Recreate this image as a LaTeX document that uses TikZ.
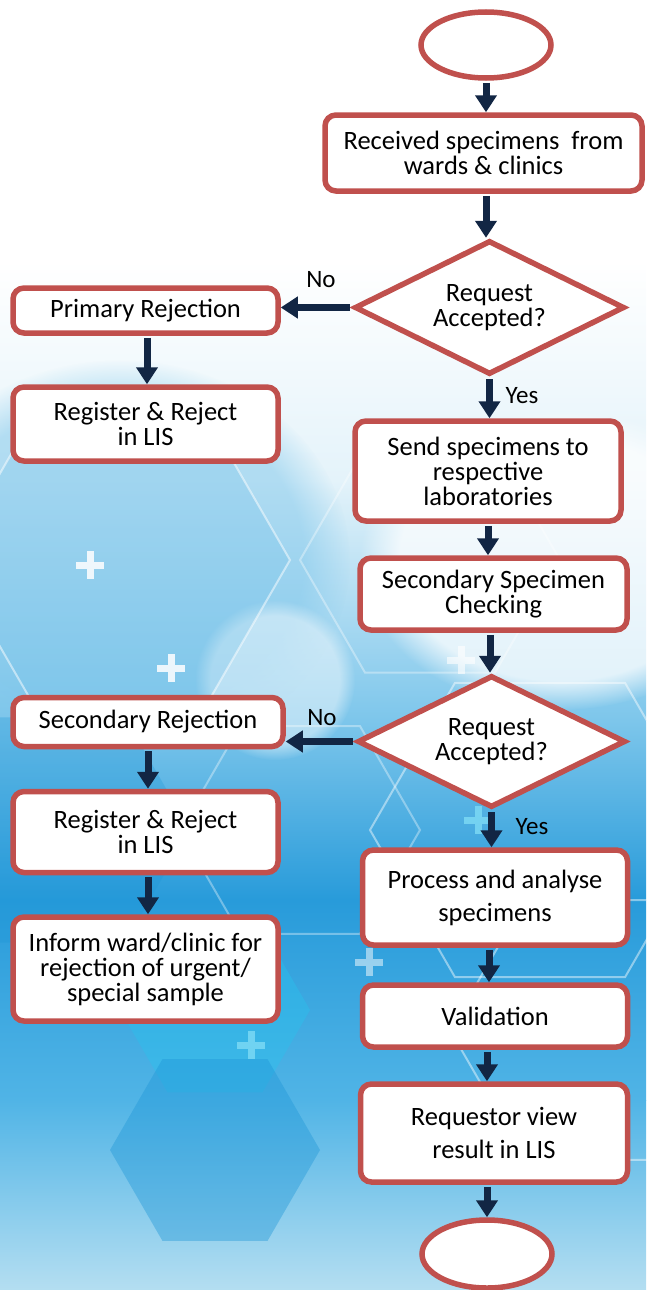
\documentclass[tikz,border=0pt]{standalone}
\usepackage{fontspec}
\setmainfont{Carlito}
\usetikzlibrary{shapes.geometric,arrows.meta,fadings}
\definecolor{bred}{RGB}{192,80,77}
\definecolor{navy}{RGB}{18,38,68}
\definecolor{bgA}{RGB}{228,243,250}
\definecolor{bgB}{RGB}{125,198,235}
\definecolor{bgC}{RGB}{40,155,218}
\definecolor{bgD}{RGB}{80,180,230}
\definecolor{bgE}{RGB}{180,222,241}
\definecolor{hexA}{RGB}{30,150,215}
\definecolor{hexB}{RGB}{40,195,238}
\newcommand{\hexa}[4]{\path[#4] (#1,#2) ++(0:#3) -- ++(120:#3) -- ++(180:#3) -- ++(240:#3) -- ++(300:#3) -- ++(0:#3) -- cycle;}
\newcommand{\plussign}[3]{\draw[#3,line width=7pt] (#1-14,#2) -- (#1+14,#2) (#1,#2-14) -- (#1,#2+14);}
\begin{document}
\begin{tikzpicture}[x=1pt,y=-1pt,
  box/.style={draw=bred,line width=5.5pt,fill=white,rounded corners=11pt,align=center,inner sep=0pt,font=\fontsize{26.5}{25}\selectfont},
  dec/.style={diamond,aspect=2,draw=bred,line width=5.5pt,fill=white,align=center,inner sep=0pt,font=\fontsize{26.5}{25}\selectfont},
  term/.style={ellipse,draw=bred,line width=5.5pt,fill=white},
  flow/.style={draw=navy,line width=7pt,shorten <=2pt,-{Triangle[length=17pt,width=21pt]}},
  lbl/.style={font=\fontsize{25}{25}\selectfont,inner sep=0pt}]
\useasboundingbox (0,0) rectangle (646,1290);
% ---------- background ----------
\fill[white] (0,0) rectangle (646,1290);
\shade[top color=white,bottom color=bgA] (0,260) rectangle (646,480);
\shade[top color=bgA,bottom color=bgB] (0,480) rectangle (646,720);
\shade[top color=bgB,bottom color=bgC] (0,720) rectangle (646,900);
\shade[top color=bgC,bottom color=bgD] (0,900) rectangle (646,1100);
\shade[top color=bgD,bottom color=bgE] (0,1100) rectangle (646,1290);
\fill[bgB,opacity=0.5,path fading=circle with fuzzy edge 20 percent] (120,560) ellipse (230 and 200);
\fill[white,opacity=0.75,path fading=circle with fuzzy edge 20 percent] (560,560) ellipse (200 and 150);
\fill[white,opacity=0.45,path fading=circle with fuzzy edge 20 percent] (275,680) circle (80);
\hexa{120}{560}{170}{fill=bgB,opacity=0.3}
\hexa{60}{830}{130}{fill=hexA,opacity=0.3}
\hexa{215}{1010}{95}{fill=hexB,opacity=0.4}
\hexa{215}{1150}{105}{fill=hexA,opacity=0.4}
\hexa{540}{830}{170}{draw=white,opacity=0.45,line width=2pt}
\hexa{600}{1030}{150}{draw=white,opacity=0.45,line width=2pt}
\hexa{120}{560}{170}{draw=white,opacity=0.5,line width=2pt}
\hexa{430}{560}{130}{draw=white,opacity=0.35,line width=2pt}
\hexa{300}{830}{120}{draw=white,opacity=0.35,line width=2pt}
\plussign{90}{565}{white,opacity=0.85}
\plussign{171}{668}{white,opacity=0.85}
\plussign{461}{660}{white,opacity=0.6}
\plussign{369}{962}{white,opacity=0.5}
\plussign{251}{1045}{hexB!60!white,opacity=0.8}
\plussign{478}{820}{hexB!60!white,opacity=0.8}
% ---------- nodes ----------
\node[term,minimum width=130pt,minimum height=66pt] (start) at (486,45) {};
\node[box,minimum width=317pt,minimum height=76pt] (recv) at (483.5,153) {Received specimens\ \ from\\wards \& clinics};
\node[dec,minimum width=270pt,minimum height=134pt] (dec1) at (489.5,307.5) {Request\\Accepted?};
\node[box,minimum width=265pt,minimum height=45pt] (prim) at (145.5,310.5) {Primary Rejection};
\node[box,minimum width=265pt,minimum height=74pt] (reg1) at (145.5,424) {Register \& Reject\\in LIS};
\node[box,minimum width=266pt,minimum height=100pt] (send) at (488,471) {Send specimens to\\respective\\laboratories};
\node[box,minimum width=267pt,minimum height=72pt] (sec) at (493.5,594) {Secondary Specimen\\Checking};
\node[dec,minimum width=268pt,minimum height=132pt] (dec2) at (491.5,741.5) {Request\\Accepted?};
\node[box,minimum width=270pt,minimum height=49pt] (srej) at (148,722) {Secondary Rejection};
\node[box,minimum width=265pt,minimum height=81pt] (reg2) at (145.5,832) {Register \& Reject\\in LIS};
\node[box,minimum width=265pt,minimum height=104pt] (inform) at (145.5,969) {Inform ward/clinic for\\rejection of urgent/\\special sample};
\node[box,minimum width=265pt,minimum height=95pt,font=\fontsize{26.5}{33}\selectfont] (proc) at (495,897.5) {Process and analyse\\specimens};
\node[box,minimum width=265pt,minimum height=62pt] (valid) at (495,1016) {Validation};
\node[box,minimum width=267pt,minimum height=98pt,font=\fontsize{26.5}{33}\selectfont] (req) at (494,1133) {Requestor view\\result in LIS};
\node[term,minimum width=130pt,minimum height=68pt] (end) at (487,1254) {};
% ---------- connectors ----------
\draw[flow] (start.south) -- (start.south |- recv.north);
\draw[flow] (recv.south -| 486,0) -- (486,0 |- dec1.north);
\draw[flow] (dec1.south) -- (dec1.south |- send.north);
\draw[flow] (send.south) -- (send.south |- sec.north);
\draw[flow] (sec.south -| 490,0) -- (490,0 |- dec2.north);
\draw[flow] (dec2.south) -- (dec2.south |- proc.north);
\draw[flow] (proc.south -| 489,0) -- (489,0 |- valid.north);
\draw[flow] (valid.south -| 487,0) -- (487,0 |- req.north);
\draw[flow] (req.south -| 487,0) -- (487,0 |- end.north);
\draw[flow] (dec1.west) -- (dec1.west -| prim.east);
\draw[flow] (prim.south -| 147,0) -- (147,0 |- reg1.north);
\draw[flow] (dec2.west) -- (dec2.west -| srej.east);
\draw[flow] (srej.south) -- (srej.south |- reg2.north);
\draw[flow] (reg2.south -| 148,0) -- (148,0 |- inform.north);
% ---------- labels ----------
\node[lbl] (no1) at (321,280) {No};
\node[lbl] (yes1) at (522,396) {Yes};
\node[lbl] (no2) at (322,718) {No};
\node[lbl] (yes2) at (532,827) {Yes};
\end{tikzpicture}
\end{document}
